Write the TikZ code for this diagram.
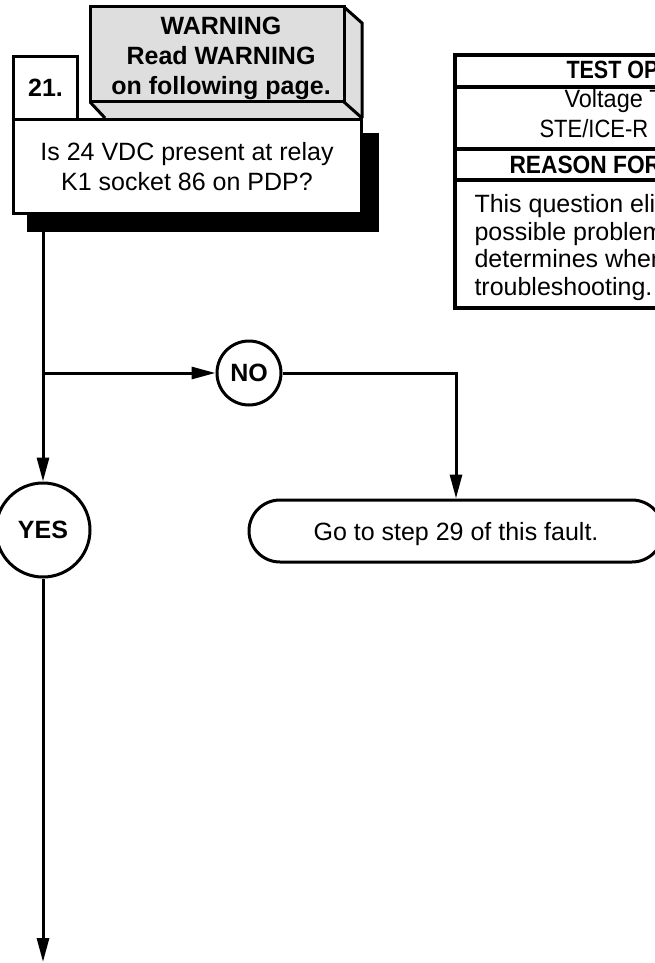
\documentclass[tikz,border=0pt]{standalone}
\usepackage{fontspec}
\setmainfont{Liberation Sans}
\newfontfamily\narrowA[FakeStretch=0.86]{Liberation Sans}
\newfontfamily\narrowB[FakeStretch=0.88]{Liberation Sans}
\newfontfamily\narrowC[FakeStretch=0.91]{Liberation Sans}
\newfontfamily\narrowD[FakeStretch=0.94]{Liberation Sans}
\usetikzlibrary{arrows.meta}
\definecolor{warngray}{RGB}{222,222,222}
\begin{document}
\begin{tikzpicture}[x=1pt,y=-1pt,line width=3pt,
  txt/.style={font=\fontsize{25}{30}\selectfont,inner sep=0pt},
  btxt/.style={font=\fontsize{25}{30}\selectfont\bfseries,inner sep=0pt},
  box/.style={draw,fill=white,line width=3pt,inner sep=0pt},
  bubble/.style={draw,fill=white,circle,line width=3pt,inner sep=0pt,font=\fontsize{25}{30}\selectfont\bfseries},
  conn/.style={line width=3pt},
  arr/.style={conn,-{Triangle[length=24pt,width=12pt]}},
  tabline/.style={line width=3.5pt}]
\useasboundingbox (0,0) rectangle (655,963);
\clip (0,0) rectangle (655,963);
% warning 3D box
\fill[warngray] (90,7) -- (344,7) -- (362,23) -- (362,118) -- (105,118) -- (90,102) -- cycle;
\draw (90,7) rectangle (344,102);
\draw (344,7) -- (362,23) -- (362,118);
\draw (344,102) -- (362,118);
\draw (90,102) -- (105,118);
\node[btxt,align=center] (warn) at (221,58) {WARNING\\Read WARNING\\on following page.};
% shadow and question box
\fill (27,133) rectangle (379,232);
\node[box,minimum width=348pt,minimum height=94pt,anchor=north west] (q) at (12,118) {};
\node[txt,align=center] (qtext) at (187,167) {Is 24 VDC present at relay\\K1 socket 86 on PDP?};
\node[box,btxt,minimum width=64pt,minimum height=63pt,anchor=north west] (num) at (12,55) {21.};
% table
\draw[tabline] (455,55) rectangle (720,308);
\draw[tabline] (455,87) -- (720,87);
\draw[tabline] (455,149) -- (720,149);
\draw[tabline] (455,180) -- (720,180);
\node[btxt,anchor=base west,font=\fontsize{25}{30}\narrowA\bfseries] (t1) at (565,79) {TEST OP};
\node[txt,anchor=base west,font=\fontsize{25}{30}\narrowD] (t2) at (563,108) {Voltage T};
\node[txt,anchor=base west,font=\fontsize{25}{30}\narrowB] (t3) at (538,137) {STE/ICE-R};
\node[btxt,anchor=base west,font=\fontsize{25}{30}\narrowC\bfseries] (t4) at (508,173) {REASON FOR};
\node[txt,anchor=base west] (b1) at (473,212) {This question eli};
\node[txt,anchor=base west] (b2) at (473,240) {possible problem};
\node[txt,anchor=base west] (b3) at (473,267) {determines wher};
\node[txt,anchor=base west] (b4) at (473,295) {troubleshooting.};
% flow
\node[bubble,minimum size=94pt] (yes) at (43,530) {YES};
\node[bubble,minimum size=64pt] (no) at (249,373) {NO};
\node[box,rounded corners=31pt,minimum width=414pt,minimum height=62pt] (go) at (456,531) {};
\node[txt,anchor=base] (gotext) at (456,540) {Go to step 29 of this fault.};
\coordinate (br) at (43,373);
\coordinate (end) at (43,962);
\draw[arr] (yes.north |- q.south) -- (yes.north);
\draw[arr] (br) -- (no.west);
\draw[arr] (no.east) -| (go.north);
\draw[arr] (yes.south) -- (end);
\end{tikzpicture}
\end{document}
